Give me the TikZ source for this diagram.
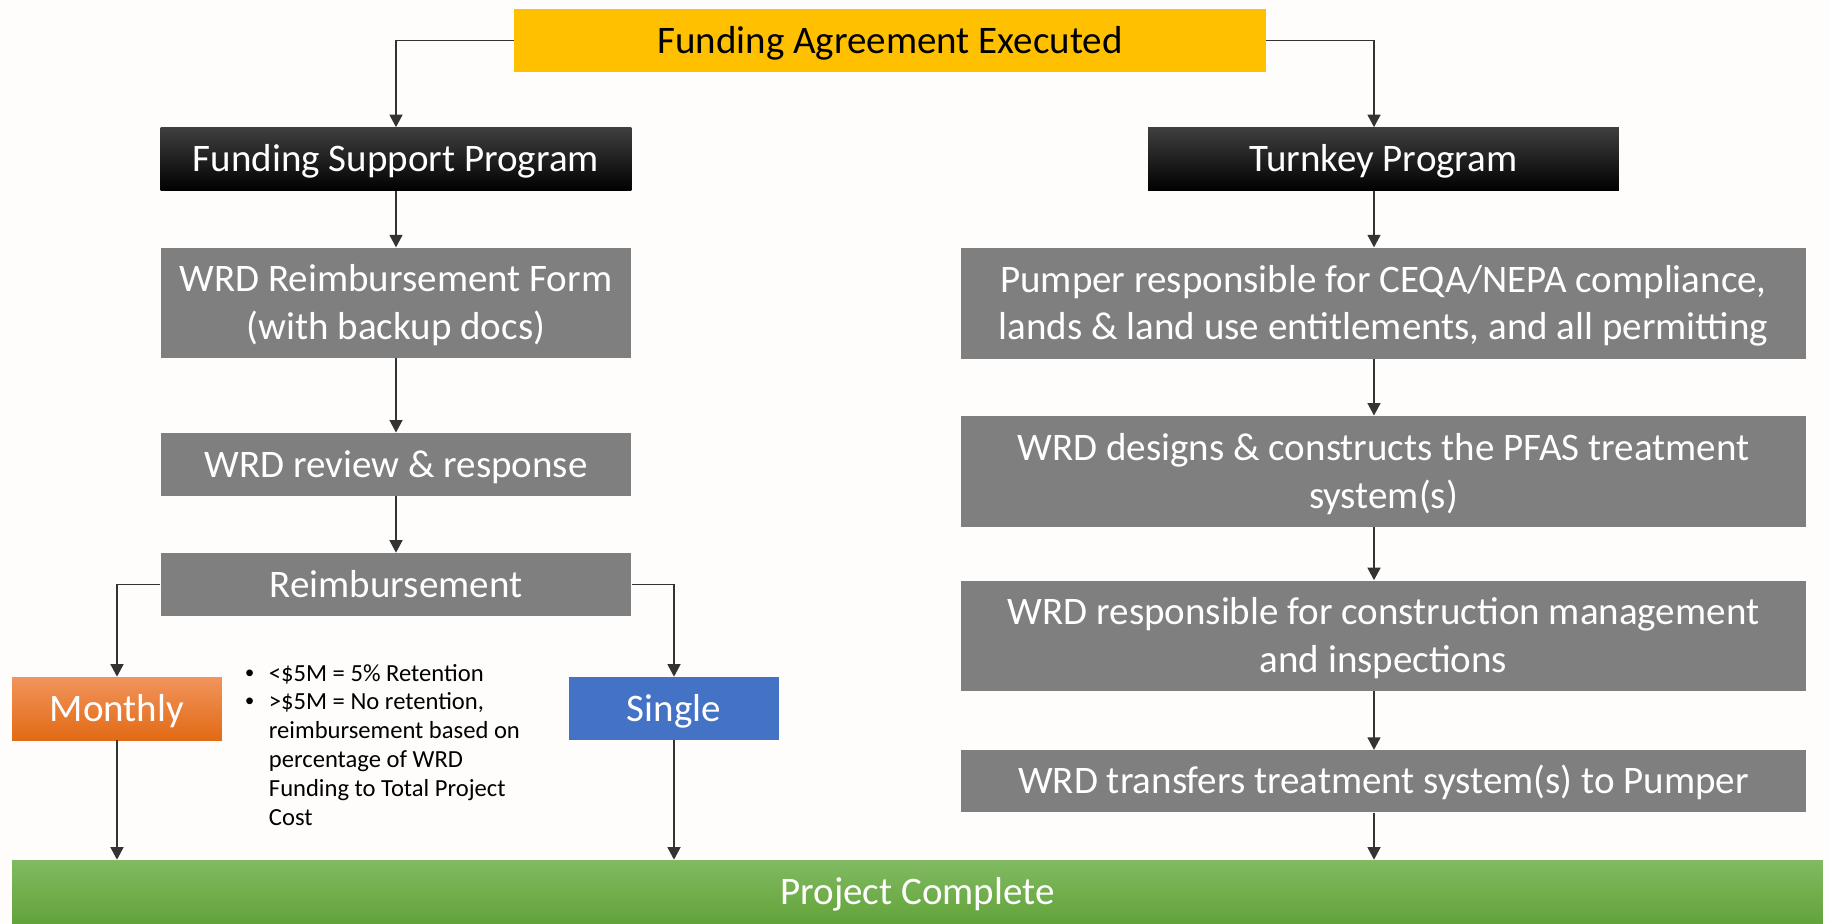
\documentclass[tikz,border=0pt]{standalone}
\usepackage{fontspec}
\setmainfont{Carlito}
\newfontfamily\bulletfont{Liberation Sans}
\usepackage{tikz}
\usetikzlibrary{positioning,chains,arrows.meta}

\definecolor{pagebg}{RGB}{254,253,251}
\definecolor{boxgray}{RGB}{127,127,127}
\definecolor{gold}{RGB}{255,192,0}
\definecolor{singleblue}{RGB}{68,114,196}
\definecolor{orangetop}{RGB}{241,148,92}
\definecolor{orangemid}{RGB}{244,124,42}
\definecolor{orangebot}{RGB}{226,106,20}
\definecolor{greentop}{RGB}{129,186,98}
\definecolor{greenbot}{RGB}{99,163,58}

\begin{document}
\begin{tikzpicture}[
	x = 0.02cm, y = -0.02cm,
	node distance = 1.13cm,
	box/.style = {rectangle, inner sep=0pt, align=center, text=white,
		minimum height=1.26cm, text height=0.512cm, text depth=0pt,
		font=\fontsize{22.2}{27.3}\selectfont},
	twoline/.style = {text height=1.472cm, text depth=0pt},   % <--- baseline sits on the last line
	graybox/.style = {box, fill=boxgray},
	blackbox/.style = {box, top color=black!75, middle color=black, bottom color=black},
	arr/.style = {line width=0.8pt, black!80, -{Triangle[length=0.25cm, width=0.26cm]}},
	]
	\fill[pagebg] (0,0) rectangle (1829,923);
	\useasboundingbox (0,0) rectangle (1829,923);
	
	\node[box, fill=gold, text=black, minimum width=15.04cm] (top) at (890,40.5) {Funding Agreement Executed};
	
	% funding support side
	\begin{scope}[start chain = L going below, every node/.append style={on chain, minimum width=9.42cm}]
	\node[blackbox] at (396,159) {Funding Support Program};
	\node[graybox, twoline, minimum height=2.2cm] {WRD Reimbursement Form\\(with backup docs)};
	\node[graybox, yshift=-0.36cm] {WRD review \& response};   % <--- a bit more room above
	\node[graybox] {Reimbursement};
	\end{scope}
	
	% turnkey side
	\begin{scope}[start chain = R going below, every node/.append style={on chain, minimum width=16.92cm}]
	\node[blackbox, minimum width=9.42cm] at (1383.5,159) {Turnkey Program};
	\node[graybox, twoline, minimum height=2.22cm] {Pumper responsible for CEQA/NEPA compliance,\\lands \& land use entitlements, and all permitting};
	\node[graybox, twoline, minimum height=2.22cm] {WRD designs \& constructs the PFAS treatment\\system(s)};
	\node[graybox, twoline, minimum height=2.2cm, yshift=0.07cm] {WRD responsible for construction management\\and inspections};
	\node[graybox, minimum height=1.24cm, yshift=-0.05cm] {WRD transfers treatment system(s) to Pumper};
	\end{scope}
	
	\node[box, top color=orangetop, middle color=orangemid, bottom color=orangebot, minimum width=4.2cm] (monthly) at (117,708.5) {Monthly};
	\node[box, fill=singleblue, minimum width=4.2cm] (single) at (674,708.5) {Single};
	\node[box, top color=greentop, bottom color=greenbot, minimum width=36.22cm] (done) at (917.5,891.5) {Project Complete};
	
	\node[anchor=base west, inner sep=0pt, font=\fontsize{14}{16.5}\selectfont] (terms) at (245,681) {%
		\begin{tabular}[t]{@{}l@{\hspace{0.3cm}}l@{}}
			{\bulletfont •} & <\$5M = 5\% Retention\\
			{\bulletfont •} & >\$5M = No retention,\\
			& reimbursement based on\\
			& percentage of WRD\\
			& Funding to Total Project\\
			& Cost
		\end{tabular}};
	
	\draw[arr] (top.west) -| (L-1.north);
	\draw[arr] (top.east) -| ([xshift=-0.19cm]R-1.north);
	\foreach \i [count=\j from 2] in {1,2,3}
	\draw[arr] (L-\i.south) -- (L-\j.north);
	\foreach \i [count=\j from 2] in {1,...,4}
	\draw[arr] ([xshift=-0.19cm]R-\i.south) -- ([xshift=-0.19cm]R-\j.north);
	
	\draw[arr] (L-4.west) -| (monthly.north);
	\draw[arr] (L-4.east) -| (single.north);
	\draw[arr] (monthly.south) -- (monthly.south |- done.north);
	\draw[arr] (single.south) -- (single.south |- done.north);
	\draw[arr] ([xshift=-0.19cm]R-5.south) -- ([xshift=-0.19cm]R-5.south |- done.north);
\end{tikzpicture}
\end{document}
